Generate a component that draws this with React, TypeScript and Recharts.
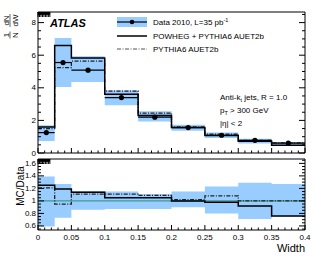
import React from "react";
import {
  ComposedChart,
  Area,
  Line,
  Scatter,
  ErrorBar,
  XAxis,
  YAxis,
  ReferenceLine,
} from "recharts";

// bin edges in jet width
const binEdges = [0, 0.025, 0.05, 0.1, 0.15, 0.2, 0.25, 0.3, 0.35, 0.4];

// top panel: 1/N dN/dW
const dataValues = [1.25, 5.55, 5.08, 3.4, 2.2, 1.56, 1.09, 0.78, 0.61];
const dataLow = [0.74, 4.05, 4.35, 2.93, 1.94, 1.37, 0.92, 0.58, 0.47];
const dataHigh = [1.7, 7.05, 5.93, 3.85, 2.56, 1.74, 1.25, 0.88, 0.67];
const powhegValues = [1.6, 6.6, 5.83, 3.6, 2.3, 1.56, 1.07, 0.72, 0.47];
const pythiaValues = [1.5, 5.24, 5.64, 3.8, 2.45, 1.6, 1.16, 0.78, 0.62];

// bottom panel: MC/Data
const ratioPowheg = [1.25, 1.19, 1.14, 1.05, 1.05, 1.0, 0.98, 0.92, 0.76];
const ratioPythia = [1.21, 0.95, 1.11, 1.11, 1.09, 1.02, 1.08, 1.0, 1.0];
const ratioLow = [0.59, 0.73, 0.86, 0.87, 0.87, 0.9, 0.8, 0.71, 0.75];
const ratioHigh = [1.39, 1.27, 1.16, 1.15, 1.11, 1.15, 1.23, 1.29, 1.27];

const xLabels = ["0", "0.05", "0.1", "0.15", "0.2", "0.25", "0.3", "0.35", "0.4"];
const topYLabels = ["0", "2", "4", "6", "8"];
const ratioYLabels = ["0.6", "0.8", "1", "1.2", "1.4", "1.6"];

const FONT = "'Liberation Sans', Arial, Helvetica, sans-serif";
const BAND = "#99ccff";
const DASHDOT = "4 1.5 1 1.5";

const range = (a: number, b: number, s: number) => {
  const out: number[] = [];
  for (let v = a; v <= b + 1e-9; v += s) out.push(Math.round(v * 1000) / 1000);
  return out;
};

const xTicks = range(0, 0.4, 0.01);
const topYTicks = range(0, 8.5, 0.5);
const ratioYTicks = range(0.55, 1.65, 0.05);

// step rows, last edge repeats last bin
const stepRows = (vals: Record<string, number[]>) =>
  binEdges.map((x, i) => {
    const j = Math.min(i, binEdges.length - 2);
    const row: any = { x };
    Object.keys(vals).forEach((k) => (row[k] = vals[k][j]));
    return row;
  });

const topRows = stepRows({ lo: dataLow, hi: dataHigh, pow: powhegValues, pyt: pythiaValues });
const ratioRows = stepRows({ lo: ratioLow, hi: ratioHigh, pow: ratioPowheg, pyt: ratioPythia });

const points = dataValues.map((y, i) => ({
  x: (binEdges[i] + binEdges[i + 1]) / 2,
  y,
  ex: (binEdges[i + 1] - binEdges[i]) / 2,
}));

// inward ROOT-style ticks; labels only on majors
const makeTick =
  (side: string, labels: string[] | null, big: number, small: number) => (p: any) => {
    const { x, y, payload } = p;
    const t = String(Math.round(payload.value * 1000) / 1000);
    const major = p.majors.includes(t);
    const len = major ? big : small;
    const showLabel = labels ? labels.includes(t) : false;
    let ln;
    if (side === "left") ln = <line x1={x} x2={x + len} y1={y} y2={y} stroke="#000" />;
    else if (side === "right") ln = <line x1={x} x2={x - len} y1={y} y2={y} stroke="#000" />;
    else if (side === "bottom") ln = <line x1={x} x2={x} y1={y} y2={y - len} stroke="#000" />;
    else ln = <line x1={x} x2={x} y1={y} y2={y + len} stroke="#000" />;
    let label = null;
    if (showLabel && side === "left")
      label = (
        <text x={x - 2} y={y} textAnchor="end" dominantBaseline="central" fontSize={8} fontFamily={FONT} fill="#000">
          {t}
        </text>
      );
    if (showLabel && side === "bottom")
      label = (
        <text x={x} y={y + 7} textAnchor="middle" dominantBaseline="central" fontSize={8} fontFamily={FONT} fill="#000">
          {t}
        </text>
      );
    return (
      <g>
        {ln}
        {label}
      </g>
    );
  };

const withMajors = (fn: any, majors: string[]) => (p: any) => fn({ ...p, majors });

const axisLine = { stroke: "#000", strokeWidth: 1 };

const xAxes = (bottomLabels: boolean, topH: number, botH: number) => [
  <XAxis
    key="xb"
    dataKey="x"
    type="number"
    domain={[0, 0.4]}
    ticks={xTicks}
    interval={0}
    height={botH}
    tickSize={0}
    tickMargin={0}
    tickLine={false}
    axisLine={axisLine}
    allowDataOverflow
    tick={withMajors(makeTick("bottom", bottomLabels ? xLabels : null, 5, 2.5), xLabels)}
  />,
  <XAxis
    key="xt"
    xAxisId="top"
    orientation="top"
    type="number"
    domain={[0, 0.4]}
    ticks={xTicks}
    interval={0}
    height={topH}
    tickSize={0}
    tickMargin={0}
    tickLine={false}
    axisLine={axisLine}
    allowDataOverflow
    tick={withMajors(makeTick("top", null, 5, 2.5), xLabels)}
  />,
];

const yAxes = (domain: number[], ticks: number[], labels: string[]) => [
  <YAxis
    key="yl"
    type="number"
    domain={domain}
    ticks={ticks}
    interval={0}
    width={38}
    tickSize={0}
    tickMargin={0}
    tickLine={false}
    axisLine={axisLine}
    allowDataOverflow
    tick={withMajors(makeTick("left", labels, 6, 3), labels)}
  />,
  <YAxis
    key="yr"
    yAxisId="right"
    orientation="right"
    type="number"
    domain={domain}
    ticks={ticks}
    interval={0}
    width={10}
    tickSize={0}
    tickMargin={0}
    tickLine={false}
    axisLine={axisLine}
    allowDataOverflow
    tick={withMajors(makeTick("right", null, 6, 3), labels)}
  />,
];

const txt = { fontFamily: FONT, fill: "#000" } as const;

export default function App() {
  return (
    <div style={{ position: "absolute", left: 0, top: 0, width: 315, height: 259, background: "#fff" }}>
      <div style={{ position: "absolute", left: 0, top: 0 }}>
        <ComposedChart width={315} height={160} data={topRows} margin={{ top: 0, right: 0, bottom: 0, left: 0 }}>
          {xAxes(false, 12, 7)}
          {yAxes([0, 8.65], topYTicks, topYLabels)}
          <Area
            dataKey={(d: any) => [d.lo, d.hi]}
            type="stepAfter"
            fill={BAND}
            fillOpacity={1}
            stroke="none"
            isAnimationActive={false}
          />
          <Line dataKey="pyt" type="stepAfter" stroke="#222" strokeWidth={1.3} strokeDasharray={DASHDOT} dot={false} activeDot={false} isAnimationActive={false} />
          <Line dataKey="pow" type="stepAfter" stroke="#000" strokeWidth={1.5} dot={false} activeDot={false} isAnimationActive={false} />
          <Scatter data={points} dataKey="y" fill="#000" shape={(p: any) => <circle cx={p.cx} cy={p.cy} r={2.6} fill="#000" />} isAnimationActive={false}>
            <ErrorBar dataKey="ex" direction="x" width={0} stroke="#000" strokeWidth={1.2} />
          </Scatter>
        </ComposedChart>
      </div>
      <div style={{ position: "absolute", left: 0, top: 149 }}>
        <ComposedChart width={315} height={110} data={ratioRows} margin={{ top: 0, right: 0, bottom: 0, left: 0 }}>
          {xAxes(true, 10, 29)}
          {yAxes([0.535, 1.67], ratioYTicks, ratioYLabels)}
          <Area
            dataKey={(d: any) => [d.lo, d.hi]}
            type="stepAfter"
            fill={BAND}
            fillOpacity={1}
            stroke="none"
            isAnimationActive={false}
          />
          <ReferenceLine y={1} stroke="#3c9c8c" strokeWidth={1.2} />
          <Line dataKey="pyt" type="stepAfter" stroke="#222" strokeWidth={1.3} strokeDasharray={DASHDOT} dot={false} activeDot={false} isAnimationActive={false} />
          <Line dataKey="pow" type="stepAfter" stroke="#000" strokeWidth={1.5} dot={false} activeDot={false} isAnimationActive={false} />
        </ComposedChart>
      </div>
      <svg width={315} height={259} style={{ position: "absolute", left: 0, top: 0, pointerEvents: "none" }}>
        {/* y title, top panel */}
        <g transform="translate(10,24) rotate(-90)" style={txt} fontSize={8}>
          <text x={-11} y={-1.5} textAnchor="middle">1</text>
          <line x1={-14.5} x2={-7.5} y1={0} y2={0} stroke="#000" strokeWidth={0.6} />
          <text x={-11} y={7.5} textAnchor="middle">N</text>
          <text x={3.5} y={-1.5} textAnchor="middle">dN</text>
          <line x1={-3} x2={10} y1={0} y2={0} stroke="#000" strokeWidth={0.6} />
          <text x={3.5} y={7.5} textAnchor="middle">dW</text>
        </g>
        <text x={50} y={27} fontSize={11} fontWeight="bold" fontStyle="italic" style={txt}>ATLAS</text>
        {/* legend */}
        <rect x={117} y={17} width={30} height={10} fill={BAND} />
        <line x1={117} x2={147} y1={22} y2={22} stroke="#000" strokeWidth={1.2} />
        <circle cx={132} cy={22} r={2.3} fill="#000" />
        <text x={153} y={25} fontSize={8} style={txt}>
          Data 2010, L=35 pb<tspan dy={-3} fontSize={5.5}>-1</tspan>
        </text>
        <line x1={117} x2={147} y1={36} y2={36} stroke="#000" strokeWidth={1.5} />
        <text x={153} y={39} fontSize={8} style={txt}>POWHEG + PYTHIA6 AUET2b</text>
        <line x1={117} x2={147} y1={49} y2={49} stroke="#555" strokeWidth={1.2} strokeDasharray={DASHDOT} />
        <text x={153} y={52} fontSize={8} style={txt}>PYTHIA6 AUET2b</text>
        {/* annotation */}
        <text x={220} y={100} fontSize={8} style={txt}>
          Anti-k<tspan dy={2} fontSize={5.5}>t</tspan><tspan dy={-2}> jets, R = 1.0</tspan>
        </text>
        <text x={220} y={113} fontSize={8} style={txt}>
          p<tspan dy={2} fontSize={5.5}>T</tspan><tspan dy={-2}> &gt; 300 GeV</tspan>
        </text>
        <text x={220} y={126} fontSize={8} style={txt}>|η| &lt; 2</text>
        {/* bottom titles */}
        <text x={0} y={0} transform="translate(24,186) rotate(-90)" textAnchor="middle" fontSize={10} style={txt}>MC/Data</text>
        <text x={305} y={252} textAnchor="end" fontSize={11} style={txt}>Width</text>
      </svg>
    </div>
  );
}
